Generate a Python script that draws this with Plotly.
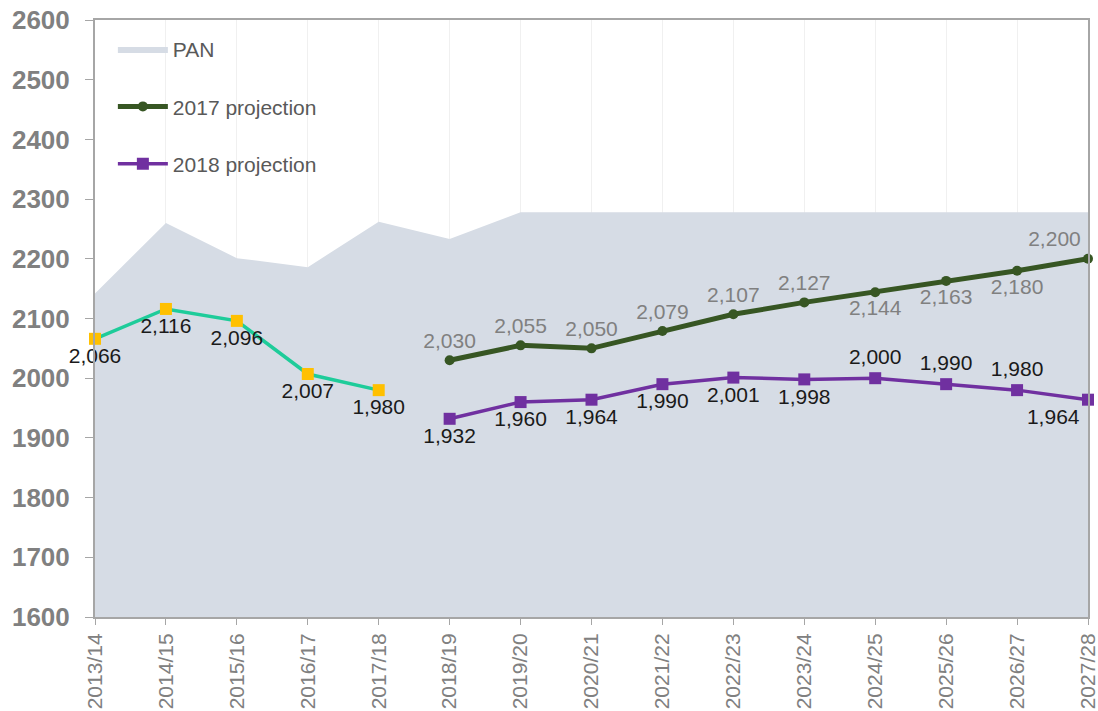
import plotly.graph_objects as go

years = ["2013/14", "2014/15", "2015/16", "2016/17", "2017/18", "2018/19", "2019/20",
         "2020/21", "2021/22", "2022/23", "2023/24", "2024/25", "2025/26", "2026/27", "2027/28"]
pan = [2142, 2260, 2201, 2186, 2262, 2233, 2278, 2278, 2278, 2278, 2278, 2278, 2278, 2278, 2278]

hist_years = years[:5]
hist_vals = [2066, 2116, 2096, 2007, 1980]
hist_pos = ["bottom center"] * 5

proj_years = years[5:]
proj2017 = [2030, 2055, 2050, 2079, 2107, 2127, 2144, 2163, 2180, 2200]
pos2017 = ["top center"] * 6 + ["bottom center"] * 3 + ["top left"]
proj2018 = [1932, 1960, 1964, 1990, 2001, 1998, 2000, 1990, 1980, 1964]
pos2018 = ["bottom center"] * 6 + ["top center"] * 3 + ["bottom left"]

LABEL_SIZE = 21

fig = go.Figure()
fig.add_trace(go.Scatter(
    x=years, y=pan, name="PAN", mode="lines", fill="tozeroy",
    fillcolor="#D6DCE5", line=dict(width=0, color="#D6DCE5"), legendgroup="a",
    hoverinfo="skip"))
fig.add_trace(go.Scatter(
    x=hist_years, y=hist_vals, name="Actual", mode="lines+markers+text",
    line=dict(color="#1ECC9A", width=3.5),
    marker=dict(symbol="square", size=12, color="#FFC000"),
    text=[f"{v:,}" for v in hist_vals], textposition=hist_pos, cliponaxis=False,
    textfont=dict(size=LABEL_SIZE, color="#1a1a1a"), showlegend=False))
fig.add_trace(go.Scatter(
    x=proj_years, y=proj2017, name="2017 projection", mode="lines+markers+text",
    line=dict(color="#375623", width=5),
    marker=dict(symbol="circle", size=10, color="#375623"),
    text=[f"{v:,}" for v in proj2017], textposition=pos2017, cliponaxis=False,
    textfont=dict(size=LABEL_SIZE, color="#808080"), legendgroup="b"))
fig.add_trace(go.Scatter(
    x=proj_years, y=proj2018, name="2018 projection", mode="lines+markers+text",
    line=dict(color="#7030A0", width=3.5),
    marker=dict(symbol="square", size=12, color="#7030A0"),
    text=[f"{v:,}" for v in proj2018], textposition=pos2018, cliponaxis=False,
    textfont=dict(size=LABEL_SIZE, color="#1a1a1a"), legendgroup="c"))

fig.update_layout(
    width=1098, height=711,
    margin=dict(l=95, r=10, t=20, b=94),
    paper_bgcolor="white", plot_bgcolor="white",
    font=dict(family="Liberation Sans, Arial, sans-serif"),
    showlegend=True,
    legend=dict(x=0.018, y=0.985, xanchor="left", yanchor="top",
                font=dict(size=21, color="#595959"), bgcolor="rgba(0,0,0,0)",
                tracegroupgap=27, itemwidth=50),
)
fig.update_xaxes(
    type="category", range=[0, 14], showgrid=True, gridcolor="#F0F0F0",
    showline=True, linecolor="#A6A6A6", linewidth=2, mirror=True, automargin=False,
    ticks="outside", ticklen=6, tickcolor="#A6A6A6", tickangle=-90,
    ticklabeloverflow="allow",
    tickfont=dict(size=21, color="#808080"))
fig.update_yaxes(
    range=[1600, 2600], dtick=100, showgrid=False, automargin=False,
    showline=True, linecolor="#A6A6A6", linewidth=2, mirror=True,
    ticks="outside", ticklen=8, tickcolor="#A6A6A6", ticklabelstandoff=10,
    ticklabeloverflow="allow",
    tickfont=dict(size=26, color="#808080", family="Liberation Sans, Arial, sans-serif", weight="bold"))

fig.write_html("out.html",
               config={"displayModeBar": False},
               post_script="document.body.style.margin='0';document.body.style.overflow='hidden';")
